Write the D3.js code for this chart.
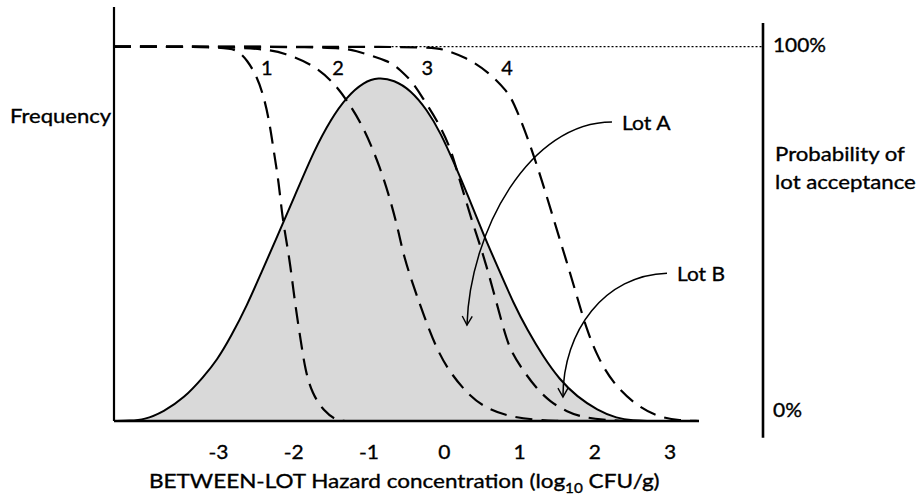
<!DOCTYPE html>
<html><head><meta charset="utf-8">
<script src="https://cdn.jsdelivr.net/npm/d3@7"></script>
<style>body{margin:0;background:#fff}</style>
</head><body>
<svg id="c" width="918" height="499"></svg>
<script>
// ---------- data ----------
const xTicks = [-3, -2, -1, 0, 1, 2, 3];

// between-lot hazard distribution (relative frequency)
const densityX = [-4.38,-4.17,-3.98,-3.72,-3.45,-3.19,-3.01,-2.83,-2.61,-2.42,-2.22,-1.98,-1.72,-1.50,-1.29,-1.06,-0.87,-0.66,-0.44,-0.22,-0.04,0.14,0.31,0.53,0.73,0.93,1.11,1.32,1.54,1.77,2.04,2.30,2.51,2.74];
const densityY = [0,0.001,0.003,0.025,0.061,0.118,0.163,0.224,0.310,0.398,0.489,0.601,0.724,0.806,0.866,0.906,0.918,0.911,0.884,0.831,0.769,0.688,0.608,0.497,0.405,0.313,0.243,0.172,0.110,0.065,0.029,0.007,0.001,0];

// operating characteristic curves (probability of acceptance)
const oc1X = [-4.38,-2.92,-2.74,-2.61,-2.48,-2.39,-2.32,-2.26,-2.19,-2.15,-2.10,-2.04,-1.97,-1.90,-1.84,-1.75,-1.59,-1.42,-1.31];
const oc1Y = [1,1,0.991,0.964,0.920,0.866,0.804,0.724,0.635,0.555,0.492,0.421,0.305,0.216,0.136,0.074,0.025,0.001,0];
const oc2X = [-4.38,-2.49,-2.09,-1.73,-1.47,-1.29,-1.07,-0.84,-0.69,-0.60,-0.53,-0.40,-0.26,-0.09,0.09,0.35,0.57,0.88,1.23,1.54];
const oc2Y = [1,1,0.982,0.951,0.906,0.858,0.788,0.676,0.577,0.505,0.439,0.359,0.279,0.190,0.127,0.065,0.034,0.011,0.003,0];
const oc3X = [-4.38,-1.38,-1.21,-0.72,-0.58,-0.41,-0.29,-0.09,0.08,0.18,0.28,0.40,0.55,0.79,0.88,1.05,1.23,1.41,1.63,1.85,2.11,2.41];
const oc3Y = [1,1,0.991,0.962,0.938,0.905,0.866,0.804,0.735,0.665,0.598,0.518,0.430,0.248,0.190,0.136,0.087,0.052,0.025,0.010,0.003,0];
const oc4X = [-4.38,-0.19,-0.05,0.30,0.61,0.85,0.93,1.06,1.20,1.33,1.51,1.64,1.77,1.90,2.05,2.25,2.52,2.83,3.14,3.39];
const oc4Y = [1,1,0.996,0.972,0.930,0.879,0.849,0.786,0.706,0.626,0.505,0.421,0.332,0.243,0.168,0.101,0.047,0.011,0.001,0];

const curveNames = ["1", "2", "3", "4"];
const lotNames = ["Lot A", "Lot B"];
const leftTitle = "Frequency";
const rightTitle = ["Probability of", "lot acceptance"];
const pctLabels = ["100%", "0%"];

// ---------- layout ----------
const svg = d3.select("#c");
const FONT = 'Lato, "Open Sans", sans-serif';
const FS = 20;
const x = d3.scaleLinear().domain([-4.38, 3.39]).range([114, 699]);
const y = d3.scaleLinear().domain([0, 1]).range([421, 46.7]);
const xRight = 4.24;   // position of right-hand probability axis
const xDotStart = -0.8;

const zip = (a, b) => a.map((v, i) => [v, b[i]]);

// density area
const dens = zip(densityX, densityY);
svg.append("path").datum(dens)
  .attr("d", d3.area().x(d => x(d[0])).y0(y(0)).y1(d => y(d[1])).curve(d3.curveBasis))
  .attr("fill", "#d9d9d9");
svg.append("path").datum(dens)
  .attr("d", d3.line().x(d => x(d[0])).y(d => y(d[1])).curve(d3.curveBasis))
  .attr("fill", "none").attr("stroke", "#000").attr("stroke-width", 2);

// dotted 100% line
svg.append("line")
  .attr("x1", x(xDotStart)).attr("x2", x(xRight)).attr("y1", y(1)).attr("y2", y(1))
  .attr("stroke", "#000").attr("stroke-width", 1.3).attr("stroke-dasharray", "2,2");

// OC curves
const ocs = [zip(oc1X, oc1Y), zip(oc2X, oc2Y), zip(oc3X, oc3Y), zip(oc4X, oc4Y)];
const ocLine = d3.line().x(d => x(d[0])).y(d => y(d[1])).curve(d3.curveBasis);
svg.selectAll("path.oc").data(ocs).join("path").attr("class", "oc")
  .attr("d", ocLine).attr("fill", "none").attr("stroke", "#000")
  .attr("stroke-width", 2.2).attr("stroke-dasharray", "17,9");

// axes lines
svg.append("line").attr("x1", x.range()[0]).attr("x2", x.range()[0]).attr("y1", y(1.106)).attr("y2", y(0))
  .attr("stroke", "#000").attr("stroke-width", 2.2);
svg.append("line").attr("x1", x.range()[0]).attr("x2", x.range()[1]).attr("y1", y(0)).attr("y2", y(0))
  .attr("stroke", "#000").attr("stroke-width", 2.6);
svg.append("line").attr("x1", x(xRight)).attr("x2", x(xRight)).attr("y1", y(1.063)).attr("y2", y(-0.045))
  .attr("stroke", "#000").attr("stroke-width", 2.6);

// text helper (horizontal fit to the reference widths)
function place(str, px, py, targetW, anchor) {
  const g = svg.append("g").attr("transform", `translate(${px},${py})`);
  const t = g.append("text").attr("font-family", FONT).attr("font-size", FS)
    .attr("text-anchor", anchor || "start").attr("fill", "#000")
    .attr("stroke", "#000").attr("stroke-width", 0.35);
  if (typeof str === "string") t.text(str); else str(t);
  const w = t.node().getBBox().width;
  if (targetW) t.attr("transform", `scale(${targetW / w},1)`);
  return t;
}

// x axis title
place(t => {
  t.append("tspan").text("BETWEEN-LOT Hazard concentration (log");
  t.append("tspan").attr("font-size", FS * 0.68).attr("dy", 5).text("10");
  t.append("tspan").attr("dy", -5).text(" CFU/g)");
}, 149, 488, 511, "start");

// tick labels via axis
const ax = svg.append("g").attr("transform", `translate(0,${y(0)})`)
  .call(d3.axisBottom(x).tickValues(xTicks).tickSize(0).tickPadding(24).tickFormat(d => String(d)));
ax.select(".domain").remove();
ax.selectAll("text").attr("font-family", FONT).attr("font-size", FS).attr("fill", "#000")
  .attr("stroke", "#000").attr("stroke-width", 0.35)
  .attr("transform", "scale(1.05,1)");

// left / right titles
place(leftTitle, 10, 123, 102);
place(pctLabels[0], 773, 52, 53);
place(pctLabels[1], 773, 417, 29);
place(rightTitle[0], 775, 161, 130);
place(rightTitle[1], 775, 189, 141);

// curve numbers
const curveLabelX = [-2.35, -1.405, -0.22, 0.84];
const curveLabelY = 0.924;
curveNames.forEach((n, i) => place(n, x(curveLabelX[i]), y(curveLabelY), null, "middle"));

// lot arrows
svg.append("defs").append("marker").attr("id", "ah")
  .attr("markerUnits", "userSpaceOnUse").attr("markerWidth", 24).attr("markerHeight", 24)
  .attr("viewBox", "-12 -12 24 24").attr("refX", 0).attr("refY", 0).attr("orient", "auto")
  .append("path").attr("d", "M-9,-5L0,0L-9,5").attr("fill", "none").attr("stroke", "#000").attr("stroke-width", 1.4);

const lotArrows = [
  [[2.234, 0.799], [1.145, 0.799], [0.348, 0.510], [0.308, 0.256]],
  [[2.965, 0.395], [2.141, 0.390], [1.583, 0.243], [1.583, 0.064]]
];
lotArrows.forEach(p => {
  const q = p.map(d => [x(d[0]), y(d[1])]);
  svg.append("path")
    .attr("d", `M${q[0]}C${q[1]} ${q[2]} ${q[3]}`)
    .attr("fill", "none").attr("stroke", "#000").attr("stroke-width", 1.5)
    .attr("marker-end", "url(#ah)");
});
const lotLabelPos = [[2.367, 0.777], [3.097, 0.374]];
const lotLabelW = [49, 48];
lotNames.forEach((n, i) => place(n, x(lotLabelPos[i][0]), y(lotLabelPos[i][1]), lotLabelW[i]));
</script>
</body></html>
